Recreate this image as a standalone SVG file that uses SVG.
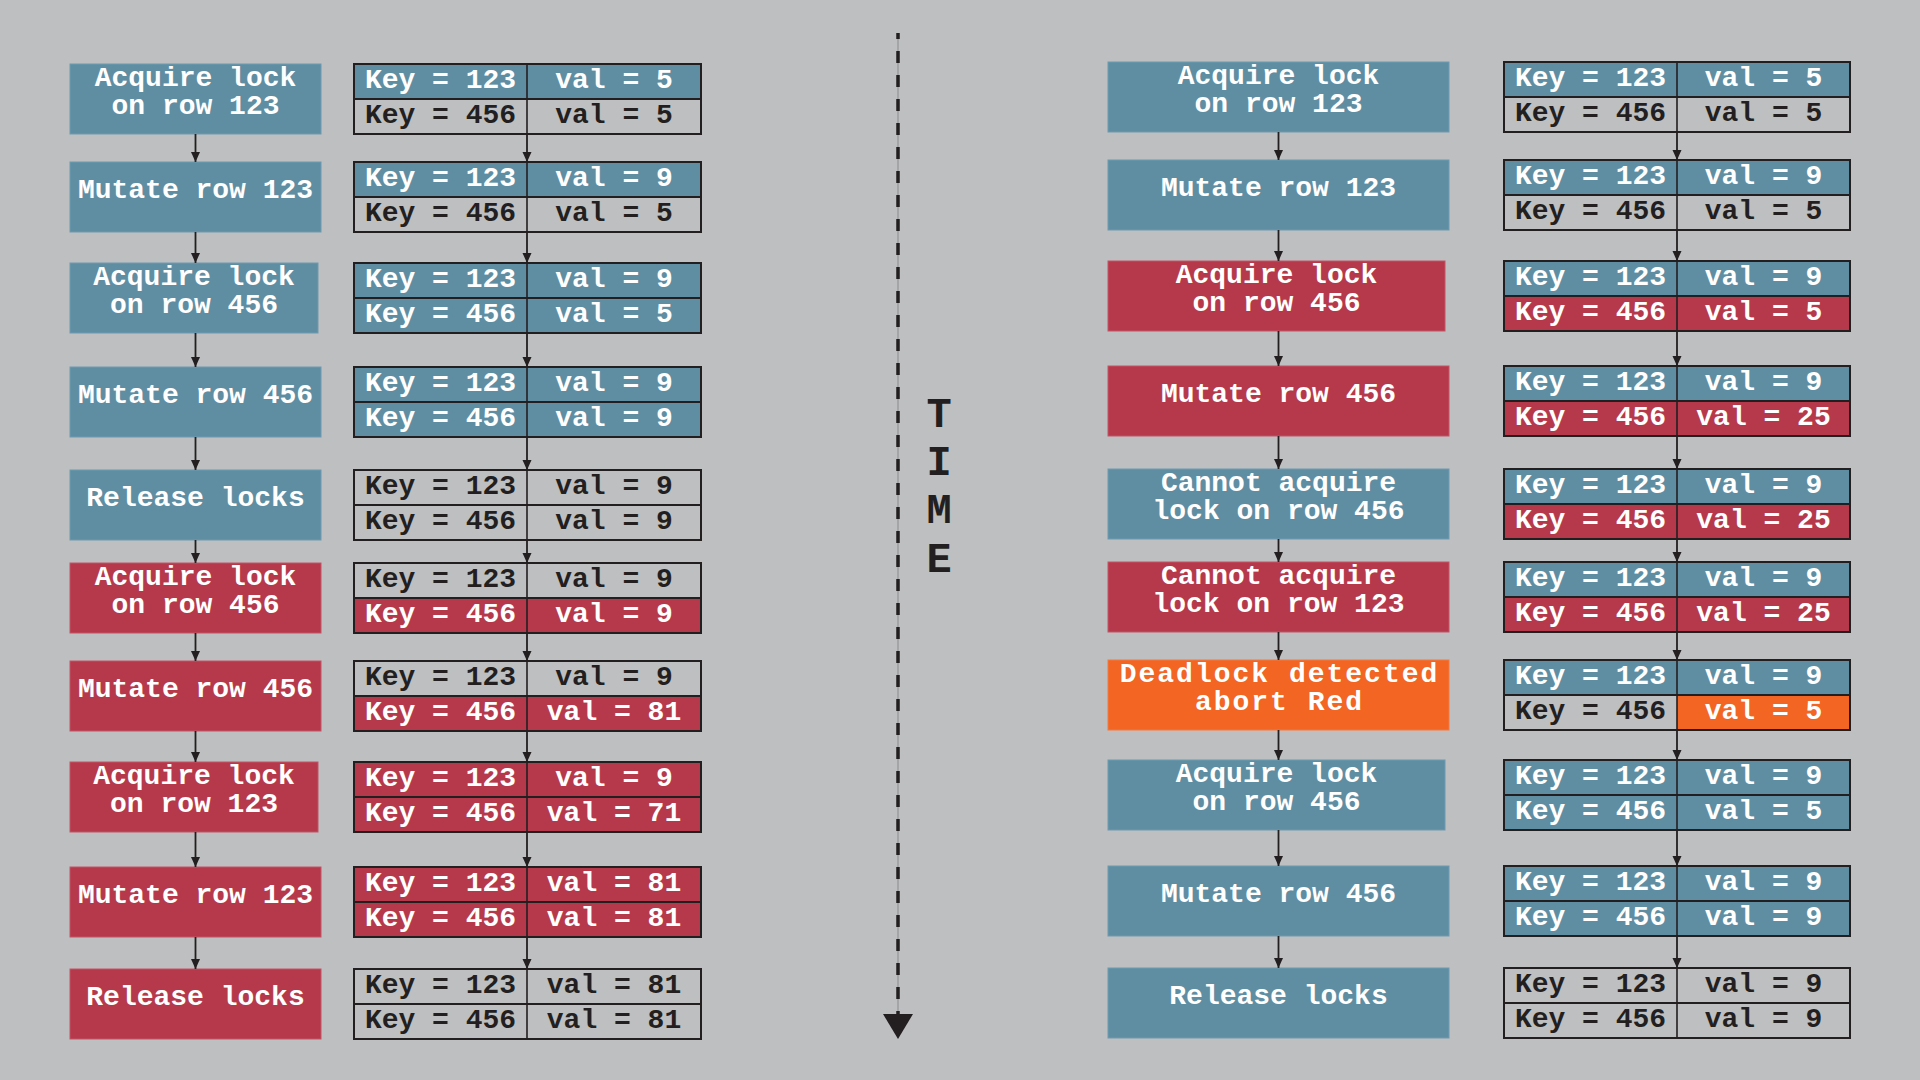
<svg xmlns="http://www.w3.org/2000/svg" width="1920" height="1080" viewBox="0 0 1920 1080">
<defs>
<style>
.blue{fill:#5f8ea3;stroke:#6e9ab0;stroke-width:1}
.red{fill:#b6394b;stroke:#c25566;stroke-width:1}
.org{fill:#f26522;stroke:#f47a40;stroke-width:1}
.cb{fill:#5f8ea3}
.cr{fill:#b6394b}
.co{fill:#f26522}
.fr{fill:none;stroke:#231f20;stroke-width:2}
.ln{stroke:#231f20;stroke-width:2}
.dv{stroke:#231f20;stroke-width:1.6}
.ar{stroke:#231f20;stroke-width:1.8;fill:none;marker-end:url(#ah)}
text{font-family:"Liberation Mono","DejaVu Sans Mono",monospace;font-weight:bold;font-size:28px;text-anchor:middle}
.w{fill:#ffffff}
.k{fill:#231f20}
.sp{letter-spacing:2px}
.time{font-size:42px;fill:#231f20}
</style>
<marker id="ah" viewBox="0 0 10 10" refX="10" refY="5" markerWidth="10" markerHeight="10" orient="auto" markerUnits="userSpaceOnUse">
<path d="M0,0.5 L10,5 L0,9.5 z" fill="#231f20"/>
</marker>
</defs>
<rect x="0" y="0" width="1920" height="1080" fill="#bebfc1"/>

<!-- Left process boxes -->
<g id="L1"><rect x="70" y="64" width="251" height="70" class="blue"/><text x="195.5" y="86" class="w">Acquire lock</text><text x="195.5" y="113.5" class="w">on row 123</text></g>
<g id="L2"><rect x="70" y="162" width="251" height="70" class="blue"/><text x="195.5" y="198" class="w">Mutate row 123</text></g>
<g id="L3"><rect x="70" y="263" width="248" height="70" class="blue"/><text x="194" y="285" class="w">Acquire lock</text><text x="194" y="312.5" class="w">on row 456</text></g>
<g id="L4"><rect x="70" y="367" width="251" height="70" class="blue"/><text x="195.5" y="403" class="w">Mutate row 456</text></g>
<g id="L5"><rect x="70" y="470" width="251" height="70" class="blue"/><text x="195.5" y="506" class="w">Release locks</text></g>
<g id="L6"><rect x="70" y="563" width="251" height="70" class="red"/><text x="195.5" y="585" class="w">Acquire lock</text><text x="195.5" y="612.5" class="w">on row 456</text></g>
<g id="L7"><rect x="70" y="661" width="251" height="70" class="red"/><text x="195.5" y="697" class="w">Mutate row 456</text></g>
<g id="L8"><rect x="70" y="762" width="248" height="70" class="red"/><text x="194" y="784" class="w">Acquire lock</text><text x="194" y="811.5" class="w">on row 123</text></g>
<g id="L9"><rect x="70" y="867" width="251" height="70" class="red"/><text x="195.5" y="903" class="w">Mutate row 123</text></g>
<g id="L10"><rect x="70" y="969" width="251" height="70" class="red"/><text x="195.5" y="1005" class="w">Release locks</text></g>

<!-- Left tables -->
<g id="LT1"><rect x="354" y="64" width="347" height="35" class="cb"/>
<rect x="354" y="64" width="347" height="70" class="fr"/><line x1="354" y1="99" x2="701" y2="99" class="ln"/><line x1="527" y1="64" x2="527" y2="134" class="dv"/>
<text x="440.5" y="88" class="w">Key = 123</text><text x="614" y="88" class="w">val = 5</text><text x="440.5" y="123" class="k">Key = 456</text><text x="614" y="123" class="k">val = 5</text></g>
<g id="LT2"><rect x="354" y="162" width="347" height="35" class="cb"/>
<rect x="354" y="162" width="347" height="70" class="fr"/><line x1="354" y1="197" x2="701" y2="197" class="ln"/><line x1="527" y1="162" x2="527" y2="232" class="dv"/>
<text x="440.5" y="186" class="w">Key = 123</text><text x="614" y="186" class="w">val = 9</text><text x="440.5" y="221" class="k">Key = 456</text><text x="614" y="221" class="k">val = 5</text></g>
<g id="LT3"><rect x="354" y="263" width="347" height="70" class="cb"/>
<rect x="354" y="263" width="347" height="70" class="fr"/><line x1="354" y1="298" x2="701" y2="298" class="ln"/><line x1="527" y1="263" x2="527" y2="333" class="dv"/>
<text x="440.5" y="287" class="w">Key = 123</text><text x="614" y="287" class="w">val = 9</text><text x="440.5" y="322" class="w">Key = 456</text><text x="614" y="322" class="w">val = 5</text></g>
<g id="LT4"><rect x="354" y="367" width="347" height="70" class="cb"/>
<rect x="354" y="367" width="347" height="70" class="fr"/><line x1="354" y1="402" x2="701" y2="402" class="ln"/><line x1="527" y1="367" x2="527" y2="437" class="dv"/>
<text x="440.5" y="391" class="w">Key = 123</text><text x="614" y="391" class="w">val = 9</text><text x="440.5" y="426" class="w">Key = 456</text><text x="614" y="426" class="w">val = 9</text></g>
<g id="LT5">
<rect x="354" y="470" width="347" height="70" class="fr"/><line x1="354" y1="505" x2="701" y2="505" class="ln"/><line x1="527" y1="470" x2="527" y2="540" class="dv"/>
<text x="440.5" y="494" class="k">Key = 123</text><text x="614" y="494" class="k">val = 9</text><text x="440.5" y="529" class="k">Key = 456</text><text x="614" y="529" class="k">val = 9</text></g>
<g id="LT6"><rect x="354" y="598" width="347" height="35" class="cr"/>
<rect x="354" y="563" width="347" height="70" class="fr"/><line x1="354" y1="598" x2="701" y2="598" class="ln"/><line x1="527" y1="563" x2="527" y2="633" class="dv"/>
<text x="440.5" y="587" class="k">Key = 123</text><text x="614" y="587" class="k">val = 9</text><text x="440.5" y="622" class="w">Key = 456</text><text x="614" y="622" class="w">val = 9</text></g>
<g id="LT7"><rect x="354" y="696" width="347" height="35" class="cr"/>
<rect x="354" y="661" width="347" height="70" class="fr"/><line x1="354" y1="696" x2="701" y2="696" class="ln"/><line x1="527" y1="661" x2="527" y2="731" class="dv"/>
<text x="440.5" y="685" class="k">Key = 123</text><text x="614" y="685" class="k">val = 9</text><text x="440.5" y="720" class="w">Key = 456</text><text x="614" y="720" class="w">val = 81</text></g>
<g id="LT8"><rect x="354" y="762" width="347" height="70" class="cr"/>
<rect x="354" y="762" width="347" height="70" class="fr"/><line x1="354" y1="797" x2="701" y2="797" class="ln"/><line x1="527" y1="762" x2="527" y2="832" class="dv"/>
<text x="440.5" y="786" class="w">Key = 123</text><text x="614" y="786" class="w">val = 9</text><text x="440.5" y="821" class="w">Key = 456</text><text x="614" y="821" class="w">val = 71</text></g>
<g id="LT9"><rect x="354" y="867" width="347" height="70" class="cr"/>
<rect x="354" y="867" width="347" height="70" class="fr"/><line x1="354" y1="902" x2="701" y2="902" class="ln"/><line x1="527" y1="867" x2="527" y2="937" class="dv"/>
<text x="440.5" y="891" class="w">Key = 123</text><text x="614" y="891" class="w">val = 81</text><text x="440.5" y="926" class="w">Key = 456</text><text x="614" y="926" class="w">val = 81</text></g>
<g id="LT10">
<rect x="354" y="969" width="347" height="70" class="fr"/><line x1="354" y1="1004" x2="701" y2="1004" class="ln"/><line x1="527" y1="969" x2="527" y2="1039" class="dv"/>
<text x="440.5" y="993" class="k">Key = 123</text><text x="614" y="993" class="k">val = 81</text><text x="440.5" y="1028" class="k">Key = 456</text><text x="614" y="1028" class="k">val = 81</text></g>

<!-- Right process boxes -->
<g id="R1"><rect x="1108" y="62" width="341" height="70" class="blue"/><text x="1278.5" y="84" class="w">Acquire lock</text><text x="1278.5" y="111.5" class="w">on row 123</text></g>
<g id="R2"><rect x="1108" y="160" width="341" height="70" class="blue"/><text x="1278.5" y="196" class="w">Mutate row 123</text></g>
<g id="R3"><rect x="1108" y="261" width="337" height="70" class="red"/><text x="1276.5" y="283" class="w">Acquire lock</text><text x="1276.5" y="310.5" class="w">on row 456</text></g>
<g id="R4"><rect x="1108" y="366" width="341" height="70" class="red"/><text x="1278.5" y="402" class="w">Mutate row 456</text></g>
<g id="R5"><rect x="1108" y="469" width="341" height="70" class="blue"/><text x="1278.5" y="491" class="w">Cannot acquire</text><text x="1278.5" y="518.5" class="w">lock on row 456</text></g>
<g id="R6"><rect x="1108" y="562" width="341" height="70" class="red"/><text x="1278.5" y="584" class="w">Cannot acquire</text><text x="1278.5" y="611.5" class="w">lock on row 123</text></g>
<g id="R7"><rect x="1108" y="660" width="341" height="70" class="org"/><text x="1279.5" y="682" class="w sp">Deadlock detected</text><text x="1279.5" y="709.5" class="w sp">abort Red</text></g>
<g id="R8"><rect x="1108" y="760" width="337" height="70" class="blue"/><text x="1276.5" y="782" class="w">Acquire lock</text><text x="1276.5" y="809.5" class="w">on row 456</text></g>
<g id="R9"><rect x="1108" y="866" width="341" height="70" class="blue"/><text x="1278.5" y="902" class="w">Mutate row 456</text></g>
<g id="R10"><rect x="1108" y="968" width="341" height="70" class="blue"/><text x="1278.5" y="1004" class="w">Release locks</text></g>

<!-- Right tables -->
<g id="RT1"><rect x="1504" y="62" width="346" height="35" class="cb"/>
<rect x="1504" y="62" width="346" height="70" class="fr"/><line x1="1504" y1="97" x2="1850" y2="97" class="ln"/><line x1="1677" y1="62" x2="1677" y2="132" class="dv"/>
<text x="1590.5" y="86" class="w">Key = 123</text><text x="1763.5" y="86" class="w">val = 5</text><text x="1590.5" y="121" class="k">Key = 456</text><text x="1763.5" y="121" class="k">val = 5</text></g>
<g id="RT2"><rect x="1504" y="160" width="346" height="35" class="cb"/>
<rect x="1504" y="160" width="346" height="70" class="fr"/><line x1="1504" y1="195" x2="1850" y2="195" class="ln"/><line x1="1677" y1="160" x2="1677" y2="230" class="dv"/>
<text x="1590.5" y="184" class="w">Key = 123</text><text x="1763.5" y="184" class="w">val = 9</text><text x="1590.5" y="219" class="k">Key = 456</text><text x="1763.5" y="219" class="k">val = 5</text></g>
<g id="RT3"><rect x="1504" y="261" width="346" height="35" class="cb"/><rect x="1504" y="296" width="346" height="35" class="cr"/>
<rect x="1504" y="261" width="346" height="70" class="fr"/><line x1="1504" y1="296" x2="1850" y2="296" class="ln"/><line x1="1677" y1="261" x2="1677" y2="331" class="dv"/>
<text x="1590.5" y="285" class="w">Key = 123</text><text x="1763.5" y="285" class="w">val = 9</text><text x="1590.5" y="320" class="w">Key = 456</text><text x="1763.5" y="320" class="w">val = 5</text></g>
<g id="RT4"><rect x="1504" y="366" width="346" height="35" class="cb"/><rect x="1504" y="401" width="346" height="35" class="cr"/>
<rect x="1504" y="366" width="346" height="70" class="fr"/><line x1="1504" y1="401" x2="1850" y2="401" class="ln"/><line x1="1677" y1="366" x2="1677" y2="436" class="dv"/>
<text x="1590.5" y="390" class="w">Key = 123</text><text x="1763.5" y="390" class="w">val = 9</text><text x="1590.5" y="425" class="w">Key = 456</text><text x="1763.5" y="425" class="w">val = 25</text></g>
<g id="RT5"><rect x="1504" y="469" width="346" height="35" class="cb"/><rect x="1504" y="504" width="346" height="35" class="cr"/>
<rect x="1504" y="469" width="346" height="70" class="fr"/><line x1="1504" y1="504" x2="1850" y2="504" class="ln"/><line x1="1677" y1="469" x2="1677" y2="539" class="dv"/>
<text x="1590.5" y="493" class="w">Key = 123</text><text x="1763.5" y="493" class="w">val = 9</text><text x="1590.5" y="528" class="w">Key = 456</text><text x="1763.5" y="528" class="w">val = 25</text></g>
<g id="RT6"><rect x="1504" y="562" width="346" height="35" class="cb"/><rect x="1504" y="597" width="346" height="35" class="cr"/>
<rect x="1504" y="562" width="346" height="70" class="fr"/><line x1="1504" y1="597" x2="1850" y2="597" class="ln"/><line x1="1677" y1="562" x2="1677" y2="632" class="dv"/>
<text x="1590.5" y="586" class="w">Key = 123</text><text x="1763.5" y="586" class="w">val = 9</text><text x="1590.5" y="621" class="w">Key = 456</text><text x="1763.5" y="621" class="w">val = 25</text></g>
<g id="RT7"><rect x="1504" y="660" width="346" height="35" class="cb"/><rect x="1677" y="695" width="173" height="35" class="co"/>
<rect x="1504" y="660" width="346" height="70" class="fr"/><line x1="1504" y1="695" x2="1850" y2="695" class="ln"/><line x1="1677" y1="660" x2="1677" y2="730" class="dv"/>
<text x="1590.5" y="684" class="w">Key = 123</text><text x="1763.5" y="684" class="w">val = 9</text><text x="1590.5" y="719" class="k">Key = 456</text><text x="1763.5" y="719" class="w">val = 5</text></g>
<g id="RT8"><rect x="1504" y="760" width="346" height="70" class="cb"/>
<rect x="1504" y="760" width="346" height="70" class="fr"/><line x1="1504" y1="795" x2="1850" y2="795" class="ln"/><line x1="1677" y1="760" x2="1677" y2="830" class="dv"/>
<text x="1590.5" y="784" class="w">Key = 123</text><text x="1763.5" y="784" class="w">val = 9</text><text x="1590.5" y="819" class="w">Key = 456</text><text x="1763.5" y="819" class="w">val = 5</text></g>
<g id="RT9"><rect x="1504" y="866" width="346" height="70" class="cb"/>
<rect x="1504" y="866" width="346" height="70" class="fr"/><line x1="1504" y1="901" x2="1850" y2="901" class="ln"/><line x1="1677" y1="866" x2="1677" y2="936" class="dv"/>
<text x="1590.5" y="890" class="w">Key = 123</text><text x="1763.5" y="890" class="w">val = 9</text><text x="1590.5" y="925" class="w">Key = 456</text><text x="1763.5" y="925" class="w">val = 9</text></g>
<g id="RT10">
<rect x="1504" y="968" width="346" height="70" class="fr"/><line x1="1504" y1="1003" x2="1850" y2="1003" class="ln"/><line x1="1677" y1="968" x2="1677" y2="1038" class="dv"/>
<text x="1590.5" y="992" class="k">Key = 123</text><text x="1763.5" y="992" class="k">val = 9</text><text x="1590.5" y="1027" class="k">Key = 456</text><text x="1763.5" y="1027" class="k">val = 9</text></g>

<!-- Time axis -->
<g id="time">
<line x1="898" y1="33" x2="898" y2="1014" stroke="#8a8b8d" stroke-width="1"/>
<line x1="898" y1="33" x2="898" y2="1014" stroke="#231f20" stroke-width="3.5" stroke-dasharray="12 12" stroke-dashoffset="6"/>
<polygon points="883,1014 913,1014 898,1039" fill="#231f20"/>
<text x="939" y="427" class="time">T</text>
<text x="939" y="475" class="time">I</text>
<text x="939" y="523" class="time">M</text>
<text x="939" y="572" class="time">E</text>
</g>

<!-- Connectors -->
<g id="connectors">
<line x1="195.5" y1="134" x2="195.5" y2="162" class="ar"/>
<line x1="195.5" y1="232" x2="195.5" y2="263" class="ar"/>
<line x1="195.5" y1="333" x2="195.5" y2="367" class="ar"/>
<line x1="195.5" y1="437" x2="195.5" y2="470" class="ar"/>
<line x1="195.5" y1="540" x2="195.5" y2="563" class="ar"/>
<line x1="195.5" y1="633" x2="195.5" y2="661" class="ar"/>
<line x1="195.5" y1="731" x2="195.5" y2="762" class="ar"/>
<line x1="195.5" y1="832" x2="195.5" y2="867" class="ar"/>
<line x1="195.5" y1="937" x2="195.5" y2="969" class="ar"/>
<line x1="527" y1="134" x2="527" y2="162" class="ar"/>
<line x1="527" y1="232" x2="527" y2="263" class="ar"/>
<line x1="527" y1="333" x2="527" y2="367" class="ar"/>
<line x1="527" y1="437" x2="527" y2="470" class="ar"/>
<line x1="527" y1="540" x2="527" y2="563" class="ar"/>
<line x1="527" y1="633" x2="527" y2="661" class="ar"/>
<line x1="527" y1="731" x2="527" y2="762" class="ar"/>
<line x1="527" y1="832" x2="527" y2="867" class="ar"/>
<line x1="527" y1="937" x2="527" y2="969" class="ar"/>
<line x1="1278.5" y1="132" x2="1278.5" y2="160" class="ar"/>
<line x1="1278.5" y1="230" x2="1278.5" y2="261" class="ar"/>
<line x1="1278.5" y1="331" x2="1278.5" y2="366" class="ar"/>
<line x1="1278.5" y1="436" x2="1278.5" y2="469" class="ar"/>
<line x1="1278.5" y1="539" x2="1278.5" y2="562" class="ar"/>
<line x1="1278.5" y1="632" x2="1278.5" y2="660" class="ar"/>
<line x1="1278.5" y1="730" x2="1278.5" y2="760" class="ar"/>
<line x1="1278.5" y1="830" x2="1278.5" y2="866" class="ar"/>
<line x1="1278.5" y1="936" x2="1278.5" y2="968" class="ar"/>
<line x1="1677" y1="132" x2="1677" y2="160" class="ar"/>
<line x1="1677" y1="230" x2="1677" y2="261" class="ar"/>
<line x1="1677" y1="331" x2="1677" y2="366" class="ar"/>
<line x1="1677" y1="436" x2="1677" y2="469" class="ar"/>
<line x1="1677" y1="539" x2="1677" y2="562" class="ar"/>
<line x1="1677" y1="632" x2="1677" y2="660" class="ar"/>
<line x1="1677" y1="730" x2="1677" y2="760" class="ar"/>
<line x1="1677" y1="830" x2="1677" y2="866" class="ar"/>
<line x1="1677" y1="936" x2="1677" y2="968" class="ar"/>
</g>
</svg>
